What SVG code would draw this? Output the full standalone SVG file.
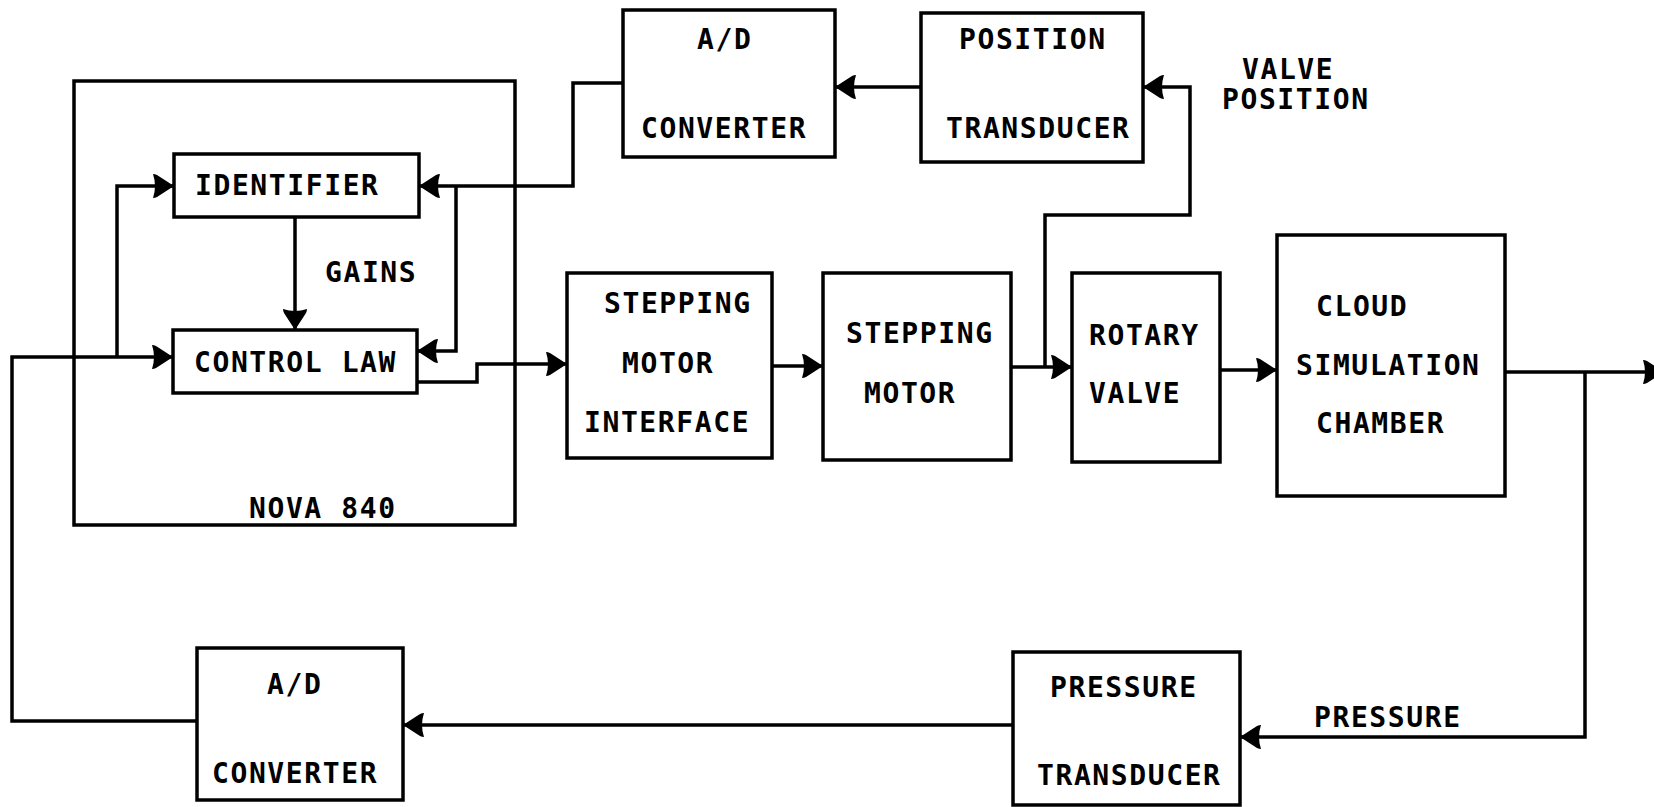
<svg xmlns="http://www.w3.org/2000/svg" width="1654" height="807" viewBox="0 0 1654 807">
<style>
.box{fill:none;stroke:#000;stroke-width:3.5;stroke-linejoin:miter}
.ln{fill:none;stroke:#000;stroke-width:3.5;stroke-linejoin:miter}
.arr{marker-end:url(#ah)}
text{font-family:"DejaVu Sans Mono","Liberation Mono",monospace;font-size:28px;font-weight:bold;letter-spacing:1.6px;fill:#000}
</style>
<defs>
<marker id="ah" markerUnits="userSpaceOnUse" markerWidth="26" markerHeight="26" refX="23" refY="13" orient="auto">
<path d="M2,1 Q4,1 6,2 L23,13 L6,24 Q4,25 2,25 Q6,13 2,1 z" fill="#000"/>
</marker>
</defs>
<rect width="1654" height="807" fill="#fff"/>
<g id="connectors">
<path class="ln arr" d="M623,83 H573 V186 H419"/>
<path class="ln arr" d="M456,186 V351 H417"/>
<path class="ln arr" d="M921,87 H835"/>
<path class="ln arr" d="M1045,367 V215 H1190 V87 H1143"/>
<path class="ln arr" d="M1011,367 H1072"/>
<path class="ln arr" d="M1220,370 H1277"/>
<path class="ln arr" d="M1505,372 H1664"/>
<path class="ln arr" d="M1585,372 V737 H1240"/>
<path class="ln arr" d="M1013,725 H403"/>
<path class="ln arr" d="M197,721 H12 V357 H173"/>
<path class="ln arr" d="M117,357 V186 H174"/>
<path class="ln arr" d="M295,217 V330"/>
<path class="ln arr" d="M417,382 H477 V364 H567"/>
<path class="ln arr" d="M772,366 H823"/>
</g>
<g id="nova840">
<rect class="box" x="74" y="81" width="441" height="444"/>
<text x="249" y="518">NOVA 840</text>
</g>
<g id="identifier">
<rect class="box" x="174" y="154" width="245" height="63"/>
<text x="195" y="195">IDENTIFIER</text>
</g>
<g id="gains">
<text x="325" y="282">GAINS</text>
</g>
<g id="controllaw">
<rect class="box" x="173" y="330" width="244" height="63"/>
<text x="194" y="372">CONTROL LAW</text>
</g>
<g id="ad_top">
<rect class="box" x="623" y="10" width="212" height="147"/>
<text x="697" y="49">A/D</text>
<text x="641" y="138">CONVERTER</text>
</g>
<g id="position_transducer">
<rect class="box" x="921" y="13" width="222" height="149"/>
<text x="959" y="49">POSITION</text>
<text x="946" y="138">TRANSDUCER</text>
</g>
<g id="valve_position_label">
<text x="1242" y="79">VALVE</text>
<text x="1222" y="109">POSITION</text>
</g>
<g id="sm_interface">
<rect class="box" x="567" y="273" width="205" height="185"/>
<text x="604" y="313">STEPPING</text>
<text x="622" y="373">MOTOR</text>
<text x="584" y="432">INTERFACE</text>
</g>
<g id="stepping_motor">
<rect class="box" x="823" y="273" width="188" height="187"/>
<text x="846" y="343">STEPPING</text>
<text x="864" y="403">MOTOR</text>
</g>
<g id="rotary_valve">
<rect class="box" x="1072" y="273" width="148" height="189"/>
<text x="1089" y="345">ROTARY</text>
<text x="1089" y="403">VALVE</text>
</g>
<g id="cloud_chamber">
<rect class="box" x="1277" y="235" width="228" height="261"/>
<text x="1316" y="316">CLOUD</text>
<text x="1296" y="375">SIMULATION</text>
<text x="1316" y="433">CHAMBER</text>
</g>
<g id="pressure_transducer">
<rect class="box" x="1013" y="652" width="227" height="153"/>
<text x="1050" y="697">PRESSURE</text>
<text x="1037" y="785">TRANSDUCER</text>
</g>
<g id="pressure_label">
<text x="1314" y="727">PRESSURE</text>
</g>
<g id="ad_bottom">
<rect class="box" x="197" y="648" width="206" height="152"/>
<text x="267" y="694">A/D</text>
<text x="212" y="783">CONVERTER</text>
</g>
</svg>
